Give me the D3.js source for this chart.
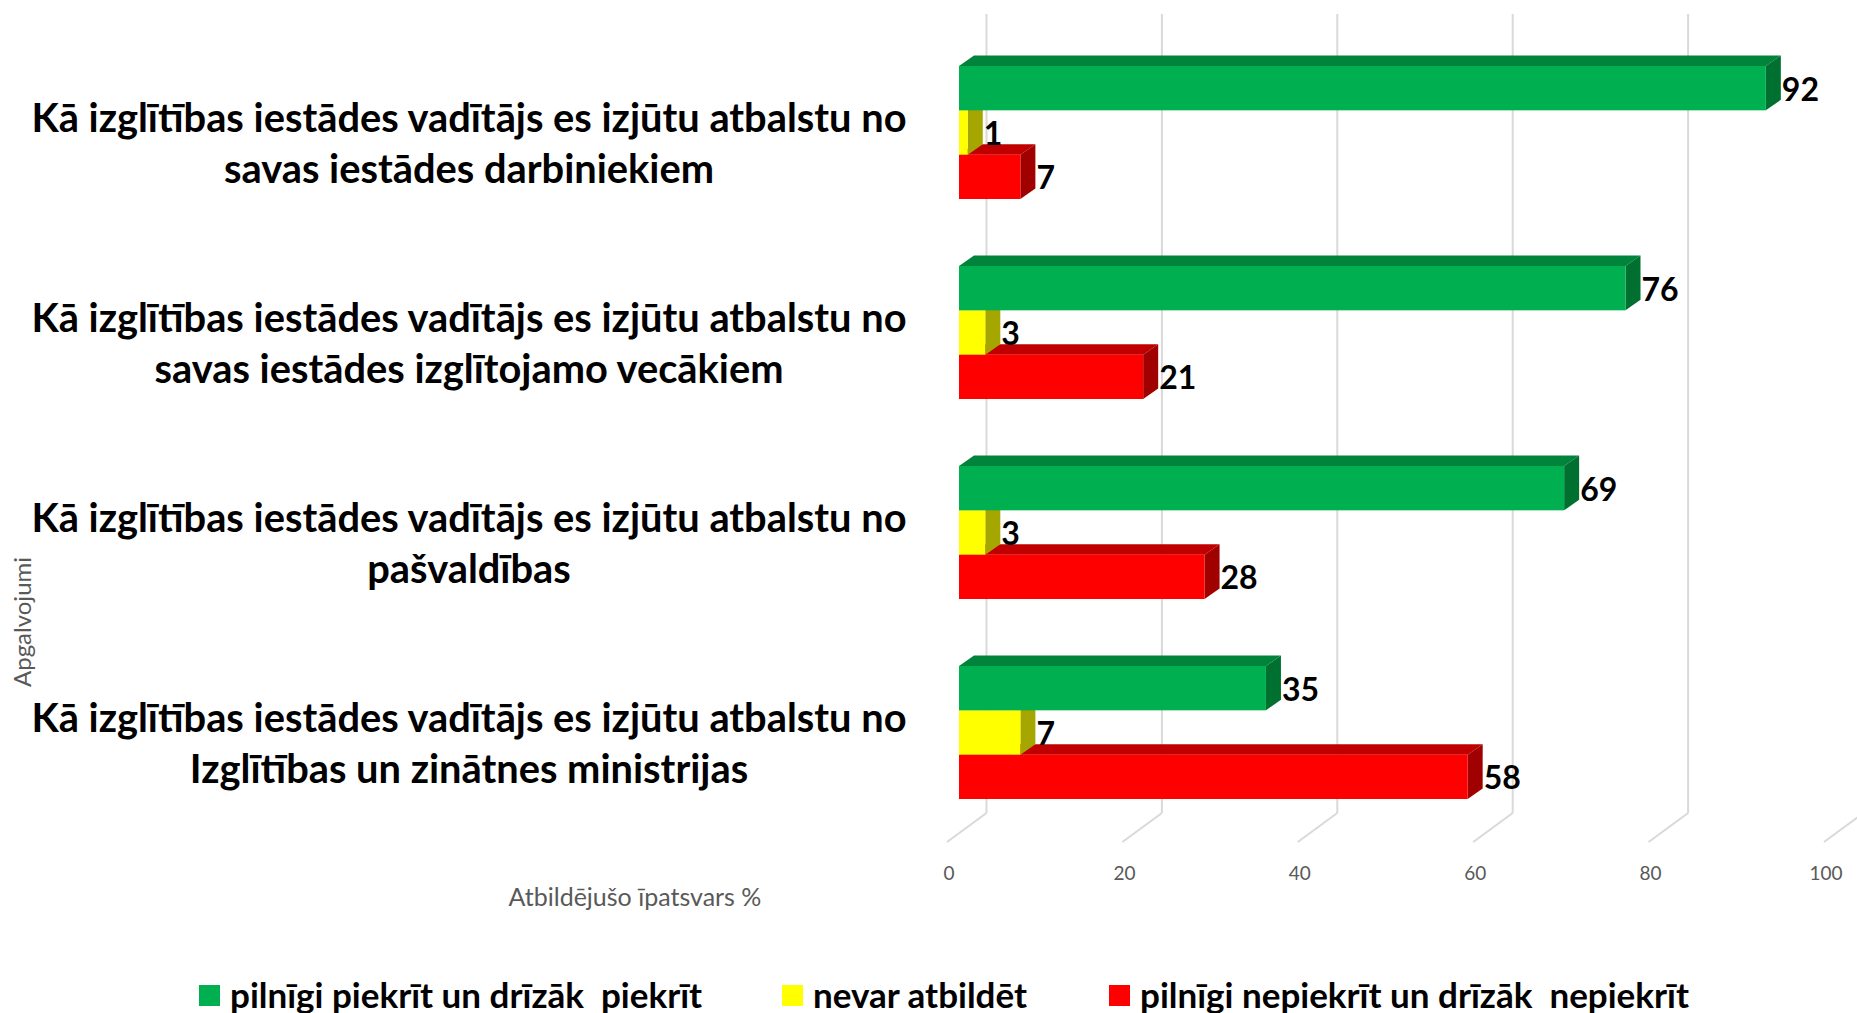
<!DOCTYPE html>
<html>
<head>
<meta charset="utf-8">
<script src="https://cdn.jsdelivr.net/npm/d3@7"></script>
<style>
  body { margin: 0; background: #fff; }
  svg { display: block; }
  text { font-family: Lato, "Open Sans", sans-serif; }
</style>
</head>
<body>
<svg id="chart"></svg>
<script>
// data
const categories = [
  ["Kā izglītības iestādes vadītājs es izjūtu atbalstu no", "savas iestādes darbiniekiem"],
  ["Kā izglītības iestādes vadītājs es izjūtu atbalstu no", "savas iestādes izglītojamo vecākiem"],
  ["Kā izglītības iestādes vadītājs es izjūtu atbalstu no", "pašvaldības"],
  ["Kā izglītības iestādes vadītājs es izjūtu atbalstu no", "Izglītības un zinātnes ministrijas"]
];
const seriesNames = ["pilnīgi piekrīt un drīzāk  piekrīt", "nevar atbildēt", "pilnīgi nepiekrīt un drīzāk  nepiekrīt"];
const agree = [92, 76, 69, 35];
const cantSay = [1, 3, 3, 7];
const disagree = [7, 21, 28, 58];
const xTicks = [0, 20, 40, 60, 80, 100];
const xTitle = "Atbildējušo īpatsvars %";
const yTitle = "Apgalvojumi";

// constants
const width = 1857;
const height = 1013;
const colors = [
  { front: "#00B050", top: "#00843C", side: "#007030" },
  { front: "#FFFF00", top: "#BFBF00", side: "#A6A600" },
  { front: "#FF0000", top: "#C00000", side: "#A00000" }
];
const depth = { dx: 15, dy: 10.5 };      // bar depth
const floorFrontX = 947, backX = 986.5, barX = 959;
const backTop = 14, backBottom = 813, floorFrontY = 842;

const svg = d3.select("svg#chart").attr("width", width).attr("height", height);

const x = d3.scaleLinear().domain([0, 100]).range([0, 877]);
const y = d3.scaleBand().domain(d3.range(categories.length))
    .range([32.5, 832.5]).paddingInner(0.335).paddingOuter(0.1675);
const ySeries = d3.scaleBand().domain(d3.range(seriesNames.length)).range([0, y.bandwidth()]);

const values = [agree, cantSay, disagree];

// back wall gridlines and floor
const grid = svg.append("g").attr("stroke", "#D9D9D9").attr("stroke-width", 2).attr("fill", "none");
grid.selectAll("line.v").data(xTicks).join("line").attr("class", "v")
    .attr("x1", d => backX + x(d)).attr("x2", d => backX + x(d))
    .attr("y1", backTop).attr("y2", backBottom);
grid.selectAll("line.f").data(xTicks).join("line").attr("class", "f")
    .attr("x1", d => backX + x(d)).attr("x2", d => floorFrontX + x(d))
    .attr("y1", backBottom).attr("y2", floorFrontY);

// tick labels
svg.append("g").selectAll("text").data(xTicks).join("text")
    .attr("x", d => floorFrontX + 2 + x(d))
    .attr("y", 872)
    .attr("text-anchor", "middle")
    .attr("dominant-baseline", "central")
    .attr("font-size", 19)
    .attr("fill", "#595959")
    .text(d => d);

// bars: draw bottom series first so upper bars overlap correctly
const bars = [];
categories.forEach((c, i) => {
  for (let s = seriesNames.length - 1; s >= 0; s--) {
    bars.push({ cat: i, s: s, v: values[s][i] });
  }
});

const barG = svg.append("g").selectAll("g").data(bars).join("g");
function geom(d) {
  const x0 = barX, x1 = barX + x(d.v);
  const y0 = y(d.cat) + ySeries(d.s), y1 = y0 + ySeries.bandwidth();
  return { x0, x1, y0, y1 };
}
barG.append("path")
    .attr("fill", d => colors[d.s].top)
    .attr("d", d => {
      const g = geom(d);
      return `M${g.x0},${g.y0}L${g.x0 + depth.dx},${g.y0 - depth.dy}L${g.x1 + depth.dx},${g.y0 - depth.dy}L${g.x1},${g.y0}Z`;
    });
barG.append("path")
    .attr("fill", d => colors[d.s].side)
    .attr("d", d => {
      const g = geom(d);
      return `M${g.x1},${g.y0}L${g.x1 + depth.dx},${g.y0 - depth.dy}L${g.x1 + depth.dx},${g.y1 - depth.dy}L${g.x1},${g.y1}Z`;
    });
barG.append("rect")
    .attr("fill", d => colors[d.s].front)
    .attr("x", d => geom(d).x0)
    .attr("y", d => geom(d).y0)
    .attr("width", d => x(d.v))
    .attr("height", ySeries.bandwidth());

// value labels
svg.append("g").selectAll("text").data(bars).join("text")
    .attr("x", d => geom(d).x1 + depth.dx + 1)
    .attr("y", d => (geom(d).y0 + geom(d).y1) / 2)
    .attr("dominant-baseline", "central")
    .attr("font-size", 32)
    .attr("font-weight", "bold")
    .attr("fill", "#000")
    .text(d => d.v);

// category labels
const catG = svg.append("g").selectAll("text").data(categories).join("text")
    .attr("text-anchor", "middle")
    .attr("font-size", 39.8)
    .attr("font-weight", "bold")
    .attr("fill", "#000");
catG.selectAll("tspan").data((d, i) => d.map(t => ({ t, i }))).join("tspan")
    .attr("x", 469)
    .attr("y", (d, j) => y(d.i) + y.bandwidth() / 2 - 1 + j * 51)
    .text(d => d.t);

// axis titles
svg.append("text")
    .attr("x", 635).attr("y", 896)
    .attr("text-anchor", "middle").attr("dominant-baseline", "central")
    .attr("font-size", 25).attr("fill", "#595959")
    .text(xTitle);
svg.append("text")
    .attr("transform", "translate(21,622) rotate(-90)")
    .attr("text-anchor", "middle").attr("dominant-baseline", "central")
    .attr("font-size", 24).attr("fill", "#595959")
    .text(yTitle);

// legend
const legendX = [199, 782, 1109];
const legend = svg.append("g").selectAll("g").data(seriesNames).join("g")
    .attr("transform", (d, i) => `translate(${legendX[i]},985)`);
legend.append("rect").attr("width", 21).attr("height", 21).attr("fill", (d, i) => colors[i].front);
legend.append("text")
    .attr("x", 31).attr("y", 9)
    .attr("dominant-baseline", "central")
    .attr("font-size", 35).attr("font-weight", "bold")
    .style("white-space", "pre")
    .text(d => d);
</script>
</body>
</html>
